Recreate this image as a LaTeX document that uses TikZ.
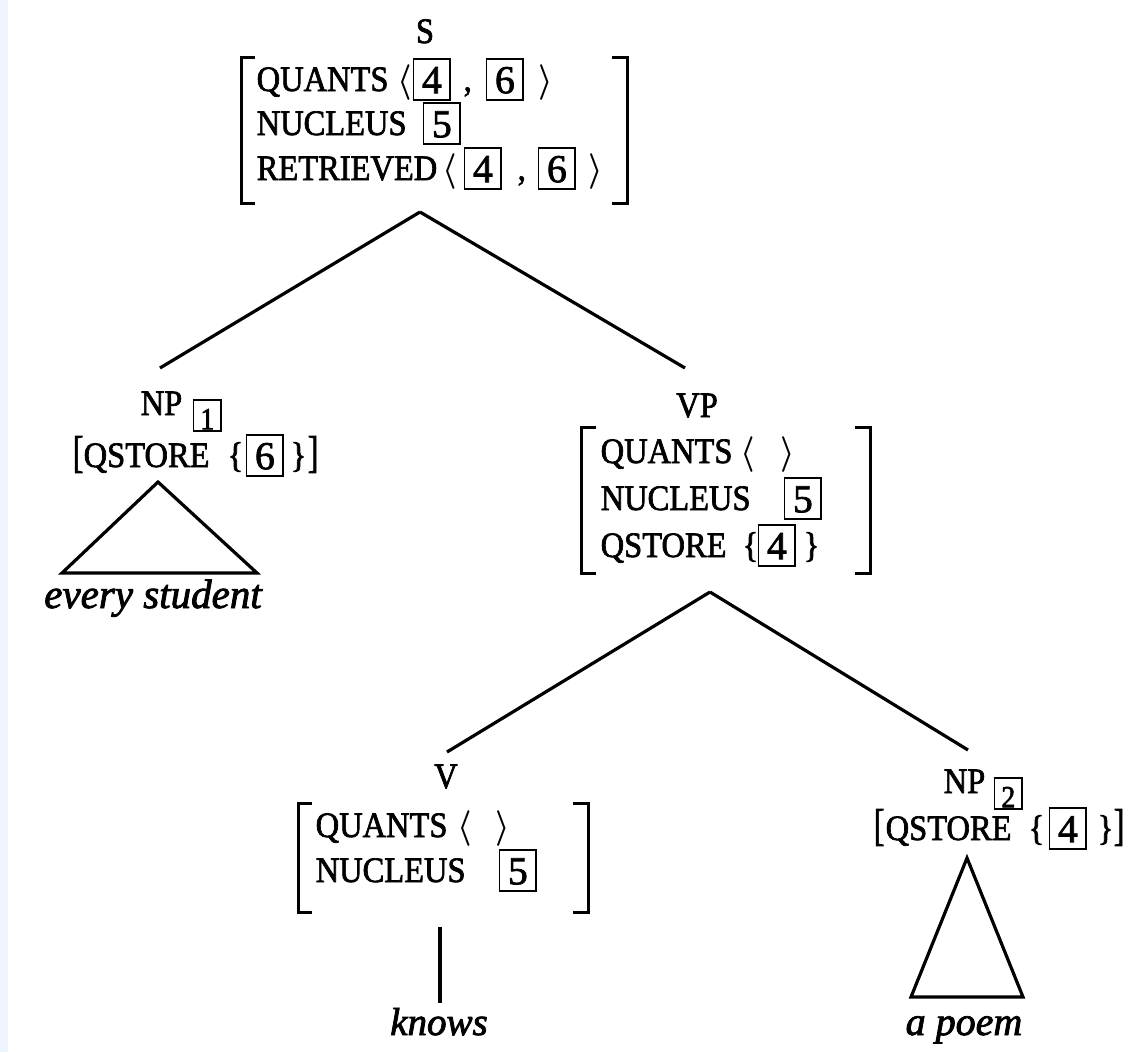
\RequirePackage{fix-cm}
\documentclass[tikz,border=0pt]{standalone}
\usepackage{fontspec}
\setmainfont{Liberation Serif}[UprightFeatures={FakeBold=2},ItalicFeatures={FakeBold=2}]
\definecolor{stripblue}{RGB}{238,245,255}
\newcommand\pc[2]{\makebox[0pt][l]{\hspace*{#1pt}\scalebox{1}[1.1]{#2}}}
\newcommand\bxn[1]{{\setlength\fboxsep{0pt}\setlength\fboxrule{1.7pt}\raisebox{-7pt}{\fbox{\makebox[35pt]{\rule{0pt}{35pt}\raisebox{5pt}{\fontsize{36}{36}\selectfont\scalebox{1.1}[1]{#1}}}}}}}
\newcommand\sbx[1]{{\setlength\fboxsep{0pt}\setlength\fboxrule{1.6pt}\raisebox{-14pt}{\fbox{\makebox[26pt]{\rule{0pt}{27pt}\raisebox{1pt}{\fontsize{28}{28}\selectfont #1}}}}}}
\newcommand\myla{\mbox{\boldmath$\langle$}}
\newcommand\myra{\mbox{\boldmath$\rangle$}}
\newcommand\bigbr[1]{\scalebox{1}[1.25]{#1}}
\tikzset{
  tx/.style={anchor=base west, inner sep=0pt, font=\fontsize{32.5}{39}\selectfont},
  lab/.style={anchor=base, inner sep=0pt, font=\fontsize{32.5}{39}\selectfont},
  itl/.style={anchor=base, inner sep=0pt, font=\itshape},
  brk/.style={line width=3pt},
  tree/.style={line width=3.2pt},
}
\begin{document}
\begin{tikzpicture}[x=1pt,y=-1pt]
\useasboundingbox (0,0) rectangle (1134,1052);
\fill[stripblue] (0,0) rectangle (8,1052);

% ---------- S ----------
\node[lab] (slab) at (425,43) {\scalebox{1}[1.1]{S}};
\draw[brk] (255,57) -- (241,57) -- (241,203) -- (255,203);
\draw[brk] (612,57) -- (627,57) -- (627,203) -- (612,203);
\node[tx] (sr1) at (256,91) {\pc{0}{QUANTS}\pc{141}{\myla}\pc{156}{\bxn{4}}\pc{207}{,}\pc{229}{\bxn{6}}\pc{282}{\myra}};
\node[tx] (sr2) at (256,135) {\pc{0}{NUCLEUS}\pc{166}{\bxn{5}}};
\node[tx] (sr3) at (256,180) {\pc{0}{RETRIEVED}\pc{186}{\myla}\pc{207}{\bxn{4}}\pc{261}{,}\pc{281}{\bxn{6}}\pc{332}{\myra}};
\coordinate (sA) at (420,212);

% ---------- NP1 ----------
\node[tx] (np1lab) at (140,415) {\pc{0}{NP}\pc{52}{\sbx{1}}};
\node[tx] (np1row) at (72,467) {\pc{0}{\bigbr{[}}\pc{11}{QSTORE}\pc{155}{\{}\pc{173}{\bxn{6}}\pc{218}{\}}\pc{235}{\bigbr{]}}};
\coordinate (np1t) at (160,368);
\draw[tree] (158,482) -- (62,573) -- (257,573) -- cycle;
\node[itl, font=\fontsize{41}{46}\selectfont\itshape] (every) at (153,608) {every student};

% ---------- VP ----------
\node[lab] (vplab) at (697,417) {\scalebox{1}[1.1]{VP}};
\coordinate (vpt) at (685,368);
\draw[brk] (596,427) -- (581,427) -- (581,573) -- (596,573);
\draw[brk] (855,427) -- (870,427) -- (870,573) -- (855,573);
\node[tx] (vpr1) at (600,463) {\pc{0}{QUANTS}\pc{140}{\myla}\pc{180}{\myra}};
\node[tx] (vpr2) at (600,510) {\pc{0}{NUCLEUS}\pc{183}{\bxn{5}}};
\node[tx] (vpr3) at (600,557) {\pc{0}{QSTORE}\pc{142}{\{}\pc{157}{\bxn{4}}\pc{203}{\}}};
\coordinate (vpA) at (710,592);

% ---------- V ----------
\node[lab] (vlab) at (446,788) {\scalebox{1}[1.1]{V}};
\coordinate (vt) at (447,752);
\draw[brk] (312,803) -- (298,803) -- (298,912) -- (312,912);
\draw[brk] (573,803) -- (588,803) -- (588,912) -- (573,912);
\node[tx] (vr1) at (315,837) {\pc{0}{QUANTS}\pc{142}{\myla}\pc{180}{\myra}};
\node[tx] (vr2) at (315,882) {\pc{0}{NUCLEUS}\pc{183}{\bxn{5}}};
\coordinate (vb) at (440,927);
\node[itl, font=\fontsize{39}{44}\selectfont\itshape] (knows) at (439,1035) {knows};
\coordinate (kt) at (440,1003);

% ---------- NP2 ----------
\node[tx] (np2lab) at (943,793) {\pc{0}{NP}\pc{50}{\sbx{2}}};
\coordinate (np2t) at (968,750);
\node[tx] (np2row) at (873,840) {\pc{0}{\bigbr{[}}\pc{12}{QSTORE}\pc{155}{\{}\pc{175}{\bxn{4}}\pc{224}{\}}\pc{240}{\bigbr{]}}};
\draw[tree] (967,858) -- (911,997) -- (1023,997) -- cycle;
\node[itl, font=\fontsize{40}{46}\selectfont\itshape] (poem) at (964,1035) {a poem};

% ---------- connectors ----------
\draw[tree] (sA) -- (np1t);
\draw[tree] (sA) -- (vpt);
\draw[tree] (vpA) -- (vt);
\draw[tree] (vpA) -- (np2t);
\draw[tree] (vb) -- (kt);
\end{tikzpicture}
\end{document}
